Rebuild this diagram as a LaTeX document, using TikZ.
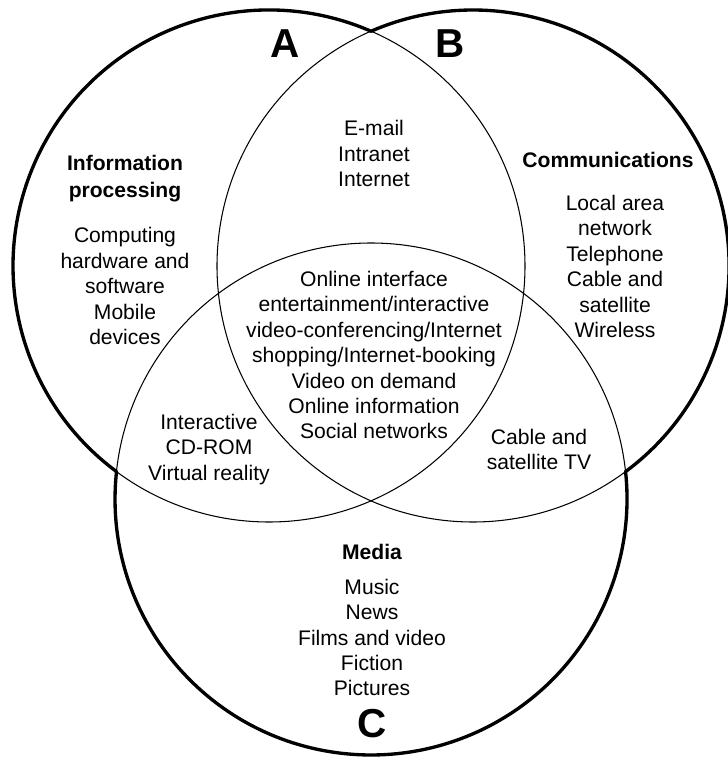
\documentclass[tikz,border=0pt]{standalone}
\usepackage{fontspec}
\setmainfont{Liberation Sans}
\usepackage{xcolor}
\usepackage{tikz}
\usetikzlibrary{calc}

\tikzset{
  ring/.style={line width=0.6pt, draw=black},
  rim/.style={line width=1.9pt, draw=black, line join=round},
  itemtext/.style={font=\fontsize{12}{14.5}\selectfont, align=center, inner sep=0pt},
  headtext/.style={itemtext, font=\fontsize{12}{15}\selectfont\bfseries},
  setlabel/.style={font=\fontsize{23}{23}\selectfont\bfseries, inner sep=0pt}
}
\newcommand{\vennr}{5.12}

\begin{document}
\begin{tikzpicture}
  \useasboundingbox (0,0) rectangle (14.56,15.14);
  % Circle centres
  \coordinate (cA) at (5.38,9.82);
  \coordinate (cB) at (9.46,9.82);
  \coordinate (cC) at (7.42,5.16);

  % Thin full circles
  \draw[ring] (cA) circle (\vennr);
  \draw[ring] (cB) circle (\vennr);
  \draw[ring] (cC) circle (\vennr);

  % Heavy outer outline
  \draw[rim] ($(cA)+(66.52:\vennr)$)
    arc[start angle=66.52, end angle=233.44, radius=\vennr]
    arc[start angle=173.86, end angle=366.14, radius=\vennr]
    arc[start angle=-53.44, end angle=113.48, radius=\vennr] -- cycle;

  % --- Set letters ---
  \node[setlabel] (labA) at (5.70,14.26) {A};
  \node[setlabel] (labB) at (9.00,14.26) {B};
  \node[setlabel] (labC) at (7.44,0.66) {C};

  % --- A only ---
  \node[headtext] (infohead) at (2.50,11.57) {Information\\processing};
  \node[itemtext] (infobody) at (2.50,9.42) {Computing\\hardware and\\software\\Mobile\\devices};

  % --- B only ---
  \node[headtext] (commhead) at (12.16,11.94) {Communications};
  \node[itemtext] (commbody) at (12.30,9.81) {Local area\\network\\Telephone\\Cable and\\satellite\\Wireless};

  % --- Overlaps ---
  \node[itemtext] (abtext) at (7.48,12.07) {E-mail\\Intranet\\Internet};
  \node[itemtext] (abctext) at (7.48,8.04) {Online interface\\entertainment/interactive\\video-conferencing/Internet\\shopping/Internet-booking\\Video on demand\\Online information\\Social networks};
  \node[itemtext] (actext) at (4.18,6.15) {Interactive\\CD-ROM\\Virtual reality};
  \node[itemtext] (bctext) at (10.78,6.15) {Cable and\\satellite TV};

  % --- C only ---
  \node[headtext] (mediahead) at (7.44,4.10) {Media};
  \node[itemtext] (mediabody) at (7.44,2.39) {Music\\News\\Films and video\\Fiction\\Pictures};
\end{tikzpicture}
\end{document}
